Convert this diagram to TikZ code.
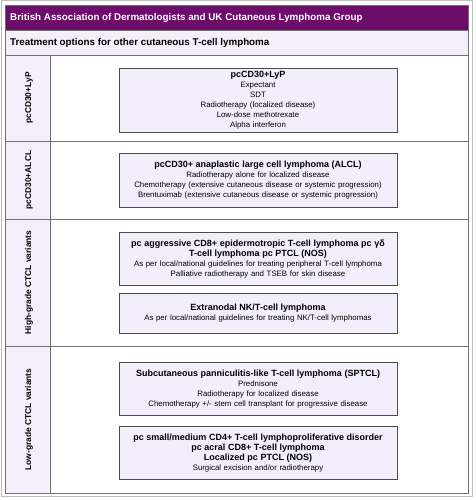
\documentclass[tikz,border=0pt]{standalone}
\usepackage{fontspec}
\setmainfont{Liberation Sans}
\definecolor{bandpurple}{HTML}{6C0D69}
\definecolor{lavender}{HTML}{F5EEFB}
\definecolor{boxfill}{HTML}{F3EEFC}
\definecolor{rule}{HTML}{707070}
\newcommand{\boxttl}{\bfseries\fontsize{9}{10.3}\selectfont}

\begin{document}
\begin{tikzpicture}[
  x=1pt,
  y=-1pt,
  tbl/.style={draw=rule, line width=0.9pt},
  head/.style={anchor=west, inner sep=0pt, font=\bfseries\fontsize{9.8}{11}\selectfont},
  rowlab/.style={rotate=90, inner sep=0pt, font=\bfseries\fontsize{8.4}{9}\selectfont},
  opt/.style={draw=black!70, line width=0.9pt, fill=boxfill, anchor=north,
    minimum width=278pt, text width=274pt, align=center, inner sep=0pt,
    font=\fontsize{7.85}{10}\selectfont}
]
\useasboundingbox (0,0) rectangle (475,500);
\draw[black!25, line width=1pt] (1,1) rectangle (472,496);
% table frame
\fill[bandpurple] (5,5) rectangle (468,30);
\fill[lavender] (5,30) rectangle (468,55);
\fill[lavender] (5,55) rectangle (50,493);
\draw[tbl] (5,5) rectangle (468,493);
\draw[tbl] (5,30) -- (468,30);
\draw[tbl] (5,55) -- (468,55);
\draw[tbl] (5,141) -- (468,141);
\draw[tbl] (5,219) -- (468,219);
\draw[tbl] (5,346) -- (468,346);
\draw[tbl] (50,55) -- (50,493);
\node[head, text=white] (bad) at (10,17.5) {British Association of Dermatologists and UK Cutaneous Lymphoma Group};
\node[head] (sub) at (10,43) {Treatment options for other cutaneous T-cell lymphoma};
% row labels
\node[rowlab] (lyp) at (29,98) {pcCD30+LyP};
\node[rowlab] (alcl) at (29,180) {pcCD30+ALCL};
\node[rowlab] (high) at (29,282.5) {High-grade CTCL variants};
\node[rowlab] (low) at (29,419.5) {Low-grade CTCL variants};
% treatment boxes
\node[opt, minimum height=64pt] (b1) at (258,68) {{\boxttl pcCD30+LyP}\\Expectant\\SDT\\
  Radiotherapy (localized disease)\\Low-dose methotrexate\\Alpha interferon};
\node[opt, minimum height=54pt] (b2) at (258,153) {{\boxttl pcCD30+ anaplastic large cell lymphoma (ALCL)}\\
  Radiotherapy alone for localized disease\\
  Chemotherapy (extensive cutaneous disease or systemic progression)\\
  Brentuximab (extensive cutaneous disease or systemic progression)};
\node[opt, minimum height=53pt] (b3) at (258,232) {{\boxttl pc aggressive CD8+ epidermotropic T-cell lymphoma pc γδ}\\
  {\boxttl T-cell lymphoma pc PTCL (NOS)}\\
  As per local/national guidelines for treating peripheral T-cell lymphoma\\
  Palliative radiotherapy and TSEB for skin disease};
\node[opt, minimum height=40pt] (b4) at (258,293) {{\boxttl Extranodal NK/T-cell lymphoma}\\
  As per local/national guidelines for treating NK/T-cell lymphomas};
\node[opt, minimum height=53pt] (b5) at (258,362) {{\boxttl Subcutaneous panniculitis-like T-cell lymphoma (SPTCL)}\\
  Prednisone\\Radiotherapy for localized disease\\
  Chemotherapy +/- stem cell transplant for progressive disease};
\node[opt, minimum height=53pt] (b6) at (258,426) {{\boxttl pc small/medium CD4+ T-cell lymphoproliferative disorder}\\
  {\boxttl pc acral CD8+ T-cell lymphoma}\\{\boxttl Localized pc PTCL (NOS)}\\
  Surgical excision and/or radiotherapy};
\end{tikzpicture}
\end{document}
